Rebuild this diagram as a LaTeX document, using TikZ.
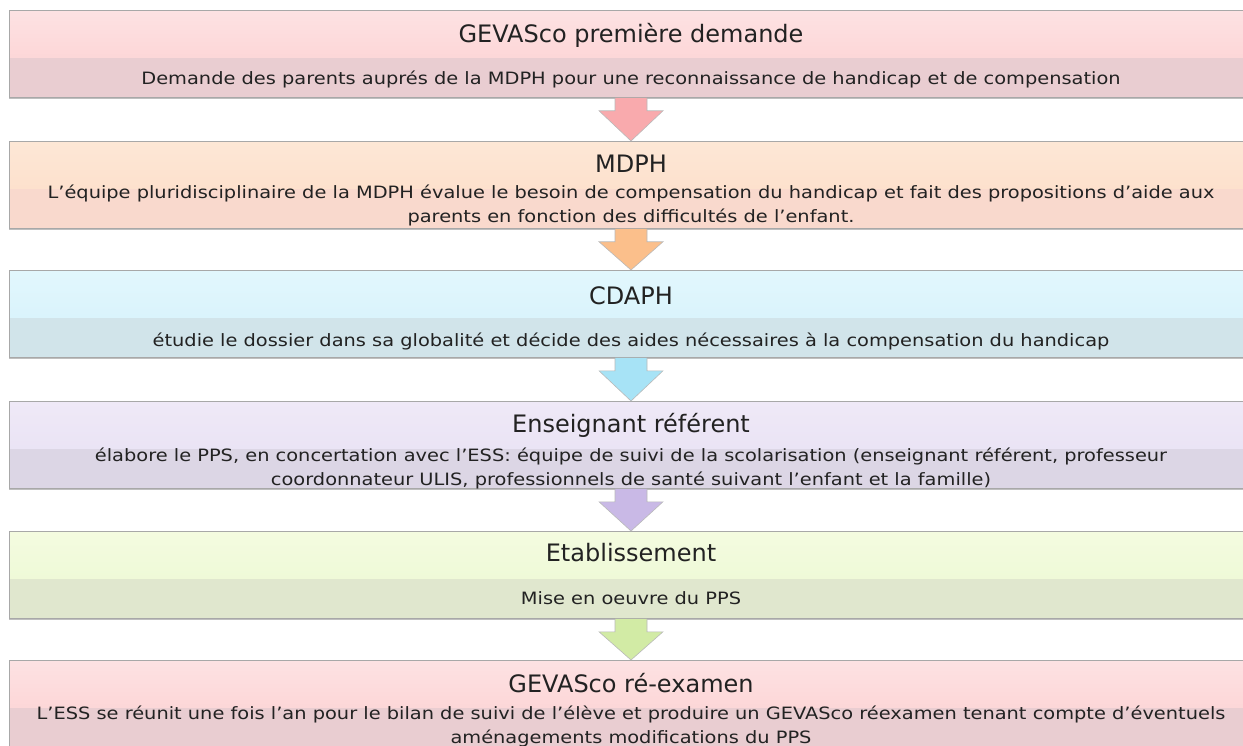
\documentclass[tikz,border=0pt]{standalone}
\usepackage{fontspec}
\setmainfont{DejaVu Sans}
\newfontfamily\stagefont{DejaVu Sans}[FakeStretch=1.14]
\usetikzlibrary{positioning, calc}
\usetikzlibrary{shadows}

\definecolor{boxline}{HTML}{A8A8A8}
\definecolor{textgray}{HTML}{222222}
\definecolor{pinkhi}{HTML}{FDE2E3}
\definecolor{pinkmid}{HTML}{FCCDCE}
\definecolor{pinklo}{HTML}{E9CDD1}
\definecolor{orangehi}{HTML}{FDE7D6}
\definecolor{orangemid}{HTML}{FDDCC5}
\definecolor{orangelo}{HTML}{F9D9CD}
\definecolor{cyanhi}{HTML}{E2F7FD}
\definecolor{cyanmid}{HTML}{D3F1FB}
\definecolor{cyanlo}{HTML}{D1E4EA}
\definecolor{purplehi}{HTML}{EFE9F7}
\definecolor{purplemid}{HTML}{E6DFF3}
\definecolor{purplelo}{HTML}{DCD6E5}
\definecolor{greenhi}{HTML}{F4FBE0}
\definecolor{greenmid}{HTML}{EAF8D0}
\definecolor{greenlo}{HTML}{E0E7CE}
\definecolor{arrpink}{HTML}{F9AAAD}
\definecolor{arrorange}{HTML}{FBBF8B}
\definecolor{arrcyan}{HTML}{A7E3F6}
\definecolor{arrpurple}{HTML}{C9B9E6}
\definecolor{arrgreen}{HTML}{D2EBA5}

\tikzset{stagebox/.style n args={3}{draw=boxline, line width=0.8pt, fill=#3,
            minimum width=1244pt, minimum height=87pt, inner sep=0pt, anchor=north,
            drop shadow={shadow xshift=0pt, shadow yshift=-2pt, opacity=0.25, fill=black},
            path picture={\shade[top color=#1, bottom color=#2]
                (path picture bounding box.north west)
                rectangle ([yshift=-47pt]path picture bounding box.north east);}},
         stagetitle/.style={anchor=base, text=textgray, inner sep=0pt,
            font=\fontsize{24}{28}\selectfont},
         stagetext/.style={anchor=base, text=textgray, inner sep=0pt, align=center,
            font=\stagefont\fontsize{17}{24}\selectfont},
         flowarrow/.style={draw=boxline!80, line width=0.6pt, fill=#1}}

\begin{document}
\begin{tikzpicture}[x=1pt, y=-1pt]
                    \useasboundingbox (0,0) rectangle (1243,746);

                    % stages
                    \node[stagebox={pinkhi}{pinkmid}{pinklo}] (demande) at (631,10) {};
                    \node[stagebox={orangehi}{orangemid}{orangelo}] (mdph) at (631,141) {};
                    \node[stagebox={cyanhi}{cyanmid}{cyanlo}] (cdaph) at (631,270) {};
                    \node[stagebox={purplehi}{purplemid}{purplelo}] (referent) at (631,401) {};
                    \node[stagebox={greenhi}{greenmid}{greenlo}] (etablissement) at (631,531) {};
                    \node[stagebox={pinkhi}{pinkmid}{pinklo}] (reexamen) at (631,660) {};

                    % titles and texts (two-line texts sit on their last line)
                    \node[stagetitle] (demandeTitle) at ([yshift=-33pt]demande.north) {GEVASco première demande};
                    \node[stagetext] (demandeText) at ([yshift=-75pt]demande.north)
                        {Demande des parents auprés de la MDPH pour une reconnaissance de handicap et de compensation};
                    \node[stagetitle] (mdphTitle) at ([yshift=-32pt]mdph.north) {MDPH};
                    \node[stagetext] (mdphText) at ([yshift=-82pt]mdph.north)
                        {L’équipe pluridisciplinaire de la MDPH évalue le besoin de compensation du handicap et fait des propositions d’aide aux\\
                         parents en fonction des difficultés de l’enfant.};
                    \node[stagetitle] (cdaphTitle) at ([yshift=-35pt]cdaph.north) {CDAPH};
                    \node[stagetext] (cdaphText) at ([yshift=-76pt]cdaph.north)
                        {étudie le dossier dans sa globalité et décide des aides nécessaires à la compensation du handicap};
                    \node[stagetitle] (referentTitle) at ([yshift=-31pt]referent.north) {Enseignant référent};
                    \node[stagetext] (referentText) at ([yshift=-84pt]referent.north)
                        {élabore le PPS, en concertation avec l’ESS: équipe de suivi de la scolarisation (enseignant référent, professeur\\
                         coordonnateur ULIS, professionnels de santé suivant l’enfant et la famille)};
                    \node[stagetitle] (etablissementTitle) at ([yshift=-30pt]etablissement.north) {Etablissement};
                    \node[stagetext] (etablissementText) at ([yshift=-73pt]etablissement.north) {Mise en oeuvre du PPS};
                    \node[stagetitle] (reexamenTitle) at ([yshift=-32pt]reexamen.north) {GEVASco ré-examen};
                    \node[stagetext] (reexamenText) at ([yshift=-83pt]reexamen.north)
                        {L’ESS se réunit une fois l’an pour le bilan de suivi de l’élève et produire un GEVASco réexamen tenant compte d’éventuels\\
                         aménagements modifications du PPS};

                    % block arrows
                    \foreach \from/\to/\col in {demande/mdph/arrpink, mdph/cdaph/arrorange, cdaph/referent/arrcyan,
                                                referent/etablissement/arrpurple, etablissement/reexamen/arrgreen}
                        \draw[flowarrow=\col] ([xshift=-16pt]\from.south) -- ([xshift=-16pt,yshift=-13pt]\from.south)
                            -- ([xshift=-32pt,yshift=-13pt]\from.south) -- (\to.north)
                            -- ([xshift=32pt,yshift=-13pt]\from.south) -- ([xshift=16pt,yshift=-13pt]\from.south)
                            -- ([xshift=16pt]\from.south);
                \end{tikzpicture}
\end{document}
